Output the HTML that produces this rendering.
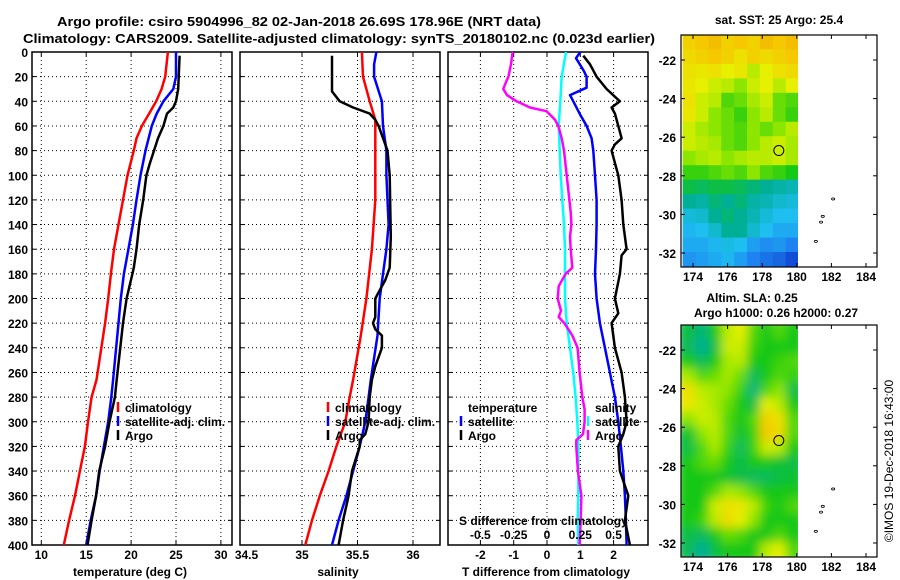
<!DOCTYPE html>
<html><head><meta charset="utf-8">
<style>
html,body{margin:0;padding:0;background:#fff;}
svg{display:block;font-family:"Liberation Sans",sans-serif;font-weight:bold;}
</style></head>
<body>
<svg id="chart" width="900" height="580" viewBox="0 0 900 580" xmlns="http://www.w3.org/2000/svg">
<defs>
<clipPath id="cp1"><rect x="32" y="52" width="200" height="493"/></clipPath>
<clipPath id="cp2"><rect x="240" y="52" width="200" height="493"/></clipPath>
<clipPath id="cp3"><rect x="448" y="52" width="200" height="493"/></clipPath>
<clipPath id="cpm1"><rect x="681" y="35" width="117" height="232"/></clipPath>
<clipPath id="cpm2"><rect x="681" y="325" width="117" height="232"/></clipPath>
<filter id="blur" x="-10%" y="-10%" width="120%" height="120%"><feGaussianBlur stdDeviation="5"/></filter>
</defs>
<text x="57" y="26" font-size="13" textLength="484" lengthAdjust="spacingAndGlyphs">Argo profile: csiro 5904996_82 02-Jan-2018 26.69S 178.96E (NRT data)</text>
<text x="23" y="43" font-size="13" textLength="632" lengthAdjust="spacingAndGlyphs">Climatology: CARS2009. Satellite-adjusted climatology: synTS_20180102.nc (0.023d earlier)</text>
<g id="g"></g>
</svg>
<script>
// ---- profile data (depth in m) ----
const tClimDepth = [0,20,30,40,50,60,70,80,100,120,140,160,180,200,220,266,280,300,320,340,360,380,400];
const tClimVal   = [24.1,23.8,23.4,22.8,22.0,21.2,20.6,20.3,19.6,19.1,18.6,18.1,17.75,17.45,17.1,16.15,15.6,15.2,14.86,14.3,13.75,13.1,12.5];
const tSatDepth  = [0,20,30,40,50,60,80,100,120,140,160,180,200,220,266,280,300,320,340,360,380,400];
const tSatVal    = [25.0,25.0,24.7,23.6,22.85,22.3,21.6,21.05,20.6,20.2,19.7,19.2,18.85,18.6,18.0,17.8,17.45,16.97,16.5,16.1,15.5,15.0];
const tArgoDepth = [3,30,40,45,50,60,70,80,90,100,120,140,160,175,180,200,220,266,280,300,320,340,360,380,400];
const tArgoVal   = [25.4,25.25,25.0,24.7,24.0,23.6,23.0,22.55,22.1,21.7,21.35,20.9,20.6,20.3,20.15,19.5,19.1,18.4,18.2,17.6,17.1,16.45,16.1,15.6,15.15];

const sClimDepth = [0,20,40,55,80,120,160,200,230,266,280,300,320,340,360,380,400];
const sClimVal   = [35.54,35.55,35.61,35.66,35.66,35.66,35.63,35.58,35.53,35.46,35.43,35.39,35.31,35.24,35.16,35.09,35.03];
const sSatDepth  = [0,10,20,40,60,80,100,140,160,180,200,230,266,280,300,320,340,360,380,400];
const sSatVal    = [35.67,35.65,35.65,35.72,35.73,35.76,35.76,35.78,35.76,35.73,35.70,35.68,35.62,35.60,35.57,35.52,35.46,35.40,35.33,35.27];
const sArgoDepth = [3,32,40,45,50,55,60,80,100,150,175,185,195,200,215,220,225,230,240,255,266,280,300,310,315,320,340,360,380,400];
const sArgoVal   = [35.27,35.27,35.34,35.46,35.61,35.66,35.69,35.77,35.79,35.80,35.79,35.75,35.69,35.66,35.66,35.64,35.66,35.72,35.72,35.66,35.63,35.61,35.60,35.57,35.52,35.52,35.45,35.42,35.37,35.33];

const dtSatDepth  = [0,5,15,20,29,35,40,50,60,70,80,100,120,140,160,180,200,220,240,260,280,300,320,340,360,380,400];
const dtSatVal    = [1.0,0.87,1.1,1.19,1.19,0.69,0.79,0.98,1.19,1.34,1.39,1.44,1.49,1.49,1.47,1.44,1.49,1.59,1.74,1.89,2.04,2.14,2.22,2.29,2.34,2.37,2.39];
const dtArgoDepth = [3,10,20,30,40,45,50,60,70,75,80,90,100,120,140,160,165,180,200,212,220,240,260,280,300,310,320,340,360,380,400];
const dtArgoVal   = [1.09,1.29,1.49,1.79,2.19,1.94,2.04,2.14,2.24,2.04,1.94,2.04,2.14,2.24,2.29,2.39,2.24,2.19,2.04,2.14,1.94,2.04,2.24,2.34,2.39,2.29,2.14,2.19,2.44,2.34,2.49];
const dsSatDepth  = [0,20,40,60,80,100,120,140,160,180,200,220,240,260,280,300,320,340,360,380,400];
const dsSatVal    = [0.143,0.11,0.10,0.088,0.095,0.103,0.115,0.128,0.135,0.135,0.135,0.148,0.173,0.197,0.215,0.228,0.235,0.235,0.235,0.23,0.235];
const dsArgoDepth = [0,10,20,25,30,35,40,45,48,55,60,70,80,100,120,130,140,150,160,175,180,190,200,210,215,220,230,240,260,280,290,300,310,315,320,340,360,380,400];
const dsArgoVal   = [-0.258,-0.27,-0.29,-0.31,-0.328,-0.30,-0.228,-0.128,-0.003,0.06,0.085,0.11,0.128,0.148,0.168,0.178,0.183,0.173,0.178,0.19,0.14,0.088,0.08,0.105,0.088,0.13,0.19,0.23,0.245,0.265,0.282,0.282,0.27,0.22,0.22,0.232,0.258,0.253,0.245];

// ---- tick labels ----
const depthTicks = [0,20,40,60,80,100,120,140,160,180,200,220,240,260,280,300,320,340,360,380,400];
const tempTicks = [10,15,20,25,30];
const salTicks = [34.5,35,35.5,36];
const salGrid = [35,35.5,36];
const dTTicks = [-2,-1,0,1,2];
const dSTicks = [-0.5,-0.25,0,0.25,0.5];
const dSLabels = ["-0.5","-0.25","0","0.25","0.5"];
const lonTicks = [174,176,178,180,182,184];
const latTicks = [-22,-24,-26,-28,-30,-32];

// ---- map grids (rows top→bottom, lat -20.7..-32.7; cols lon 173.4..180.1) ----
const sstGrid = [
[0.85,0.88,0.9,0.85,0.88,0.85,0.9,0.88,0.9],
[0.82,0.85,0.88,0.85,0.8,0.85,0.82,0.85,0.88],
[0.8,0.78,0.8,0.75,0.78,0.7,0.75,0.8,0.82],
[0.78,0.75,0.72,0.7,0.65,0.72,0.75,0.7,0.75],
[0.8,0.72,0.7,0.6,0.62,0.68,0.72,0.62,0.6],
[0.78,0.72,0.65,0.62,0.58,0.65,0.7,0.62,0.58],
[0.72,0.68,0.65,0.62,0.6,0.65,0.62,0.65,0.7],
[0.72,0.7,0.68,0.62,0.6,0.65,0.7,0.72,0.68],
[0.65,0.68,0.7,0.65,0.68,0.7,0.7,0.72,0.68],
[0.58,0.58,0.6,0.62,0.6,0.65,0.6,0.58,0.55],
[0.5,0.48,0.5,0.5,0.48,0.45,0.42,0.4,0.38],
[0.42,0.4,0.45,0.42,0.45,0.4,0.38,0.35,0.33],
[0.33,0.35,0.42,0.45,0.42,0.38,0.33,0.3,0.3],
[0.28,0.3,0.35,0.42,0.42,0.35,0.3,0.25,0.25],
[0.25,0.25,0.28,0.32,0.3,0.22,0.18,0.2,0.15],
[0.2,0.22,0.25,0.28,0.22,0.15,0.12,0.1,0.05]];
const slaGrid = [
[0.5,0.45,0.55,0.7,0.75,0.6,0.55,0.6,0.55],
[0.48,0.42,0.5,0.72,0.72,0.58,0.55,0.55,0.55],
[0.55,0.48,0.55,0.68,0.7,0.55,0.55,0.58,0.6],
[0.68,0.6,0.62,0.68,0.62,0.48,0.55,0.6,0.58],
[0.8,0.7,0.68,0.65,0.58,0.45,0.6,0.65,0.5],
[0.78,0.72,0.68,0.62,0.55,0.5,0.75,0.7,0.55],
[0.65,0.72,0.7,0.6,0.55,0.6,0.85,0.8,0.6],
[0.52,0.65,0.7,0.6,0.52,0.58,0.88,0.82,0.6],
[0.5,0.6,0.68,0.58,0.48,0.58,0.72,0.7,0.55],
[0.55,0.6,0.62,0.55,0.5,0.55,0.55,0.52,0.5],
[0.55,0.55,0.55,0.52,0.5,0.48,0.48,0.5,0.52],
[0.55,0.55,0.6,0.68,0.65,0.6,0.55,0.55,0.55],
[0.55,0.55,0.72,0.8,0.78,0.7,0.58,0.55,0.6],
[0.55,0.58,0.7,0.82,0.75,0.65,0.55,0.55,0.55],
[0.5,0.48,0.55,0.62,0.6,0.55,0.55,0.6,0.55],
[0.48,0.42,0.5,0.55,0.55,0.55,0.7,0.75,0.6]];
const argoLon = 178.96, argoLat = -26.69;

// ---- scales ----
const yD = d => 52 + d * 1.2325;
const xT = t => 41.3 + (t - 10) * 8.98;
const xS = s => 302 + (s - 35) * 111;
const xDT = v => 547 + v * 33.3;
const xDS = v => 547 + v * 133.2;
const lonX = l => 693 + (l - 174) * 17.3;
const latY1 = l => 60 + (-22 - l) * 19.3;
const latY2 = l => 350 + (-22 - l) * 19.3;

const NS = "http://www.w3.org/2000/svg";
const root = document.getElementById("g");
function mk(tag, attrs, parent) {
  const e = document.createElementNS(NS, tag);
  for (const k in attrs) e.setAttribute(k, attrs[k]);
  (parent || root).appendChild(e);
  return e;
}
function txt(s, x, y, anchor, size, name) {
  const t = mk("text", {x: x, y: y, "text-anchor": anchor, "font-size": size});
  t.textContent = s;
  
  
  return t;
}

// ---- profile panels ----
const panels = [
  {x: 32, clip: "cp1", grid: tempTicks.map(xT), name: "temperature-panel"},
  {x: 240, clip: "cp2", grid: salGrid.map(xS), name: "salinity-panel"},
  {x: 448, clip: "cp3", grid: dTTicks.map(xDT), name: "difference-panel"}
];
panels.forEach(p => {
  const g = mk("g", {});
  
  
  depthTicks.slice(1, -1).forEach(d => {
    const l = mk("line", {x1: p.x, x2: p.x + 200, y1: yD(d), y2: yD(d), stroke: "#000", "stroke-width": 1, "stroke-dasharray": "1,3"}, g);
    
    
    [p.x, p.x + 196].forEach(xx => mk("line", {x1: xx, x2: xx + 4, y1: yD(d), y2: yD(d), stroke: "#000"}, g));
  });
  p.grid.forEach(x => {
    const l = mk("line", {x1: x, x2: x, y1: 52, y2: 545, stroke: "#000", "stroke-width": 1, "stroke-dasharray": "1,3"}, g);
    
    
    mk("line", {x1: x, x2: x, y1: 52, y2: 56, stroke: "#000"}, g);
    mk("line", {x1: x, x2: x, y1: 541, y2: 545, stroke: "#000"}, g);
  });
  const fr = mk("rect", {x: p.x, y: 52, width: 200, height: 493, fill: "none", stroke: "#000", "stroke-width": 1.5}, g);
  
  
});

function series(depths, vals, xs, color, clip, name, w) {
  const pts = depths.map((d, i) => xs(vals[i]).toFixed(1) + "," + yD(d).toFixed(1)).join(" ");
  const pl = mk("polyline", {points: pts, fill: "none", stroke: color, "stroke-width": w || 2.5, "clip-path": "url(#" + clip + ")", "stroke-linejoin": "round"});
  
  
}
series(tClimDepth, tClimVal, xT, "#ff0000", "cp1", "temperature-climatology-line");
series(tSatDepth, tSatVal, xT, "#0000ff", "cp1", "temperature-satellite-line");
series(tArgoDepth, tArgoVal, xT, "#000000", "cp1", "temperature-argo-line");
series(sClimDepth, sClimVal, xS, "#ff0000", "cp2", "salinity-climatology-line");
series(sSatDepth, sSatVal, xS, "#0000ff", "cp2", "salinity-satellite-line");
series(sArgoDepth, sArgoVal, xS, "#000000", "cp2", "salinity-argo-line");
series(dsSatDepth, dsSatVal, xDS, "#00ffff", "cp3", "salinity-diff-satellite-line");
series(dsArgoDepth, dsArgoVal, xDS, "#ff00ff", "cp3", "salinity-diff-argo-line");
series(dtSatDepth, dtSatVal, xDT, "#0000ff", "cp3", "temperature-diff-satellite-line");
series(dtArgoDepth, dtArgoVal, xDT, "#000000", "cp3", "temperature-diff-argo-line");

// depth labels
depthTicks.forEach(d => txt(String(d), 28, yD(d) + 5, "end", 12, "depth-tick-label"));
tempTicks.forEach(t => txt(String(t), xT(t), 559, "middle", 12, "temperature-tick-label"));
salTicks.forEach(s => txt(String(s), xS(s), 559, "middle", 12, "salinity-tick-label"));
dTTicks.forEach(t => txt(String(t), xDT(t), 559, "middle", 12, "t-difference-tick-label"));
dSTicks.forEach((s, i) => txt(dSLabels[i], xDS(s), 539, "middle", 12, "s-difference-tick-label"));
txt("temperature (deg C)", 130, 576, "middle", 12, "temperature-axis-title");
txt("salinity", 338, 576, "middle", 12, "salinity-axis-title");
txt("T difference from climatology", 546, 576, "middle", 12, "t-difference-axis-title");
txt("S difference from climatology", 459, 525, "start", 12, "s-difference-axis-title");

// legends
function legItem(x, y, color, label, name) {
  const b = mk("line", {x1: x, x2: x, y1: y - 10, y2: y, stroke: color, "stroke-width": 2.5});
  
  
  txt(label, x + 7, y, "start", 12, name);
}
legItem(118, 412, "#ff0000", "climatology", "legend-climatology");
legItem(118, 426, "#0000ff", "satellite-adj. clim.", "legend-satellite-adj");
legItem(118, 440, "#000000", "Argo", "legend-argo");
legItem(328, 412, "#ff0000", "climatology", "legend-climatology-sal");
legItem(328, 426, "#0000ff", "satellite-adj. clim.", "legend-satellite-adj-sal");
legItem(328, 440, "#000000", "Argo", "legend-argo-sal");
txt("temperature", 468, 412, "start", 12, "legend-temperature-header");
legItem(461, 426, "#0000ff", "satellite", "legend-t-satellite");
legItem(461, 440, "#000000", "Argo", "legend-t-argo");
txt("salinity", 595, 412, "start", 12, "legend-salinity-header");
legItem(588, 426, "#00ffff", "satellite", "legend-s-satellite");
legItem(588, 440, "#ff00ff", "Argo", "legend-s-argo");

// ---- maps ----
const stops = [[0,[10,50,200]],[0.15,[30,130,240]],[0.3,[30,190,240]],[0.42,[0,175,150]],[0.55,[20,200,20]],[0.65,[140,230,0]],[0.75,[230,240,0]],[0.88,[245,200,0]],[1,[232,140,0]]];
function cmap(v) {
  for (let i = 1; i < stops.length; i++) {
    if (v <= stops[i][0]) {
      const a = stops[i-1], b = stops[i], f = (v - a[0]) / (b[0] - a[0]);
      const c = a[1].map((q, k) => Math.round(q + (b[1][k] - q) * f));
      return "rgb(" + c.join(",") + ")";
    }
  }
  return "rgb(232,140,0)";
}
function drawMap(grid, top, latY, clip, name, blur, circleName) {
  const g = mk("g", {"clip-path": "url(#" + clip + ")"});
  
  
  const inner = mk("g", blur ? {filter: "url(#blur)"} : {}, g);
  const lon0 = 173.4, dLon = (180.1 - 173.4) / 9, lat0 = -20.7, dLat = 0.75;
  grid.forEach((row, r) => row.forEach((v, c) => {
    const x1 = lonX(lon0 + c * dLon), x2 = lonX(lon0 + (c + 1) * dLon);
    const y1 = latY(lat0 - r * dLat), y2 = latY(lat0 - (r + 1) * dLat);
    const pad = blur ? 6 : 0;
    const cell = mk("rect", {x: x1 - (c === 0 ? pad : 0), y: y1 - (r === 0 ? pad : 0), width: x2 - x1 + 0.5 + (c === 0 ? pad : 0) + (c === 8 ? pad : 0), height: y2 - y1 + 0.5 + (r === 0 ? pad : 0) + (r === 15 ? pad : 0), fill: cmap(v)}, inner);
    
    
  }));
  if (blur) {
    const m = mk("rect", {x: lonX(180.1), y: top, width: 100, height: 232, fill: "#fff"}, g);
  }
  // islands
  [[182.1,-29.2],[181.5,-30.1],[181.4,-30.4],[181.1,-31.4]].forEach(p => {
    const isl = mk("ellipse", {cx: lonX(p[0]), cy: latY(p[1]), rx: 1.6, ry: 1, fill: "none", stroke: "#000", "stroke-width": 0.8});
    
    
  });
  const circ = mk("circle", {cx: lonX(argoLon), cy: latY(argoLat), r: 5, fill: "none", stroke: "#000", "stroke-width": 1});
  
  
  const fr = mk("rect", {x: 681, y: top, width: 196, height: 232, fill: "none", stroke: "#000", "stroke-width": 1.2});
  
  
  lonTicks.forEach(l => {
    mk("line", {x1: lonX(l), x2: lonX(l), y1: top, y2: top + 4, stroke: "#000"});
    mk("line", {x1: lonX(l), x2: lonX(l), y1: top + 228, y2: top + 232, stroke: "#000"});
    txt(String(l), lonX(l), top + 246, "middle", 12, "longitude-tick-label");
  });
  latTicks.forEach(l => {
    mk("line", {x1: 681, x2: 685, y1: latY(l), y2: latY(l), stroke: "#000"});
    mk("line", {x1: 873, x2: 877, y1: latY(l), y2: latY(l), stroke: "#000"});
    txt(String(l), 676, latY(l) + 5, "end", 12, "latitude-tick-label");
  });
}
drawMap(sstGrid, 35, latY1, "cpm1", "sst-map", false, "argo-location-marker-sst");
drawMap(slaGrid, 325, latY2, "cpm2", "sla-map", true, "argo-location-marker-sla");
txt("sat. SST: 25 Argo: 25.4", 779, 24, "middle", 12, "sst-map-title");
txt("Altim. SLA: 0.25", 752, 302, "middle", 12, "sla-map-title");
txt("Argo h1000: 0.26 h2000: 0.27", 776, 317, "middle", 12, "sla-map-subtitle");
const cr = txt("\u00A9IMOS 19-Dec-2018 16:43:00", 0, 0, "middle", 12, "copyright-label");
cr.setAttribute("font-weight", "normal");
cr.setAttribute("transform", "translate(893,461) rotate(-90)");
</script>
</body></html>
